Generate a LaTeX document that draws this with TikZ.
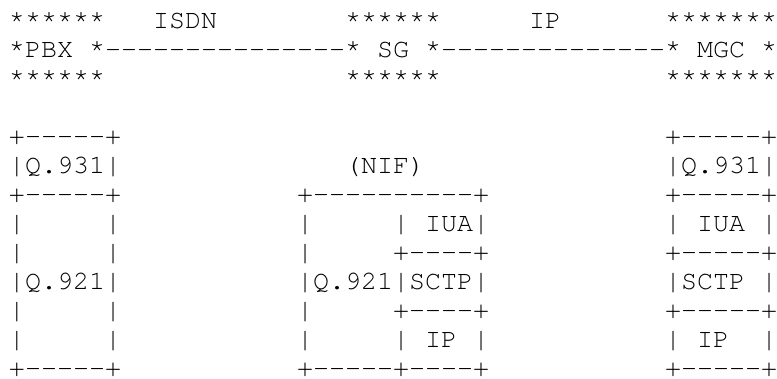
\documentclass[tikz,border=0pt]{standalone}
\usepackage{fontspec}
\setmonofont{texgyrecursor-regular.otf}

\tikzset{
  ascii/.style={font=\ttfamily\fontsize{26.67pt}{29pt}\selectfont, anchor=base west, inner sep=0pt, outer sep=0pt},
}

\begin{document}
\begin{tikzpicture}
    % Page
    \fill[white] (0pt,0pt) rectangle (777pt,-378pt);
    \useasboundingbox (0pt,0pt) rectangle (777pt,-378pt);

  \begin{scope}[x=16pt, y=-29pt, shift={(9pt,-28.5pt)}]
    % Network elements and links
    \node[ascii] (pbxtop) at (0,0) {******};
    \node[ascii] (isdn) at (9,0) {ISDN};
    \node[ascii] (sgtop) at (21,0) {******};
    \node[ascii] (iplabel) at (32.5,0) {IP};
    \node[ascii] (mgctop) at (41,0) {*******};

    \node[ascii] (pbx) at (0,1) {*PBX~*};
    \node[ascii] (isdnlink) at (6,1) {---------------};
    \node[ascii] (sg) at (21,1) {*~SG~*};
    \node[ascii] (iplink) at (27,1) {--------------};
    \node[ascii] (mgc) at (41,1) {*~MGC~*};

    \node[ascii] (pbxbot) at (0,2) {******};
    \node[ascii] (sgbot) at (21,2) {******};
    \node[ascii] (mgcbot) at (41,2) {*******};

    % PBX stack
    \node[ascii] (pbxedgea) at (0,4) {+-----+};
    \node[ascii] (pbxqa) at (0,5) {|Q.931|};
    \node[ascii] (pbxedgeb) at (0,6) {+-----+};
    \node[ascii] (pbxsidea) at (0,7) {|~~~~~|};
    \node[ascii] (pbxsideb) at (0,8) {|~~~~~|};
    \node[ascii] (pbxqb) at (0,9) {|Q.921|};
    \node[ascii] (pbxsidec) at (0,10) {|~~~~~|};
    \node[ascii] (pbxsided) at (0,11) {|~~~~~|};
    \node[ascii] (pbxedgec) at (0,12) {+-----+};

    % SG stack
    \node[ascii] (nif) at (21,5) {(NIF)};
    \node[ascii] (sgedgea) at (18,6) {+----------+};
    \node[ascii] (sgiua) at (18,7) {|~~~~~|~IUA|};
    \node[ascii] (sgedgeb) at (18,8) {|~~~~~+----+};
    \node[ascii] (sgsctp) at (18,9) {|Q.921|SCTP|};
    \node[ascii] (sgedgec) at (18,10) {|~~~~~+----+};
    \node[ascii] (sgip) at (18,11) {|~~~~~|~IP~|};
    \node[ascii] (sgedged) at (18,12) {+-----+----+};

    % MGC stack
    \node[ascii] (mgcedgea) at (41,4) {+-----+};
    \node[ascii] (mgcqa) at (41,5) {|Q.931|};
    \node[ascii] (mgcedgeb) at (41,6) {+-----+};
    \node[ascii] (mgciua) at (41,7) {|~IUA~|};
    \node[ascii] (mgcedgec) at (41,8) {+-----+};
    \node[ascii] (mgcsctp) at (41,9) {|SCTP~|};
    \node[ascii] (mgcedged) at (41,10) {+-----+};
    \node[ascii] (mgcip) at (41,11) {|~IP~~|};
    \node[ascii] (mgcedgee) at (41,12) {+-----+};
  \end{scope}
\end{tikzpicture}
\end{document}
